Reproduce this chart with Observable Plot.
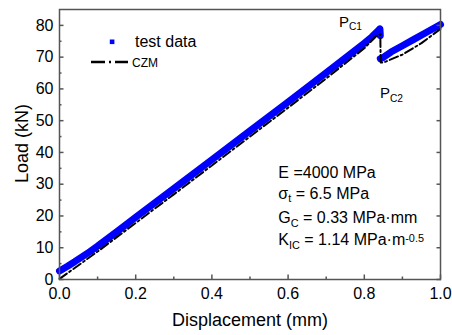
<!DOCTYPE html>
<html><head><meta charset="utf-8">
<script src="https://cdn.jsdelivr.net/npm/d3@7"></script>
<script src="https://cdn.jsdelivr.net/npm/@observablehq/plot@0.6"></script>
<style>body{margin:0;background:#fff} #chart{position:relative;width:452px;height:335px}</style>
</head><body><div id="chart"></div>
<script>
// test data (before and after the load drop)
const testX1 = [0, 0.02, 0.04, 0.06, 0.08, 0.10, 0.15, 0.20, 0.30, 0.40, 0.50, 0.60, 0.70, 0.80, 0.82, 0.835, 0.841, 0.842];
const testY1 = [2.7, 4.1, 5.6, 7.2, 8.8, 10.5, 15.0, 19.6, 28.6, 37.7, 46.8, 55.9, 65.1, 74.4, 76.4, 78.2, 78.9, 76.8];
const testX2 = [0.842, 0.848, 0.87, 0.90, 0.93, 0.96, 1.0];
const testY2 = [69.5, 69.8, 71.6, 73.6, 75.6, 77.6, 80.3];
// CZM simulation
const czmX = [0, 0.05, 0.10, 0.20, 0.30, 0.40, 0.50, 0.60, 0.70, 0.80, 0.83, 0.842, 0.843, 0.85, 0.90, 0.95, 1.0];
const czmY = [0.2, 4.5, 8.8, 17.8, 26.8, 35.9, 45.0, 54.1, 63.3, 72.8, 76.5, 77.3, 68.3, 68.3, 70.8, 74.4, 78.9];
// ticks
const xTicks = [0, 0.2, 0.4, 0.6, 0.8, 1.0];
const xMinor = [0.1, 0.3, 0.5, 0.7, 0.9];
const yTicks = [0, 10, 20, 30, 40, 50, 60, 70, 80];
const yMinor = [5, 15, 25, 35, 45, 55, 65, 75];

const test1 = testX1.map((x, i) => ({x, y: testY1[i]}));
const test2 = testX2.map((x, i) => ({x, y: testY2[i]}));
const czm = czmX.map((x, i) => ({x, y: czmY[i]}));

const FONT = "'Liberation Sans', Arial, sans-serif";
const AX = "#555";
const blank = () => "";

const plot = Plot.plot({
  width: 452, height: 335,
  marginLeft: 59, marginRight: 12, marginTop: 9, marginBottom: 56,
  x: {domain: [0, 1]},
  y: {domain: [0, 85]},
  style: {fontFamily: FONT, background: "white", color: "black"},
  marks: [
    Plot.line(test1, {x: "x", y: "y", stroke: "#0000ff", strokeWidth: 7}),
    Plot.line(test2, {x: "x", y: "y", stroke: "#0000ff", strokeWidth: 7}),
    Plot.line(czm, {x: "x", y: "y", stroke: "black", strokeWidth: 2, strokeDasharray: "9,3,2,3"}),
    Plot.frame({stroke: AX, strokeWidth: 1.5}),
    Plot.axisX({ticks: xTicks, tickSize: 0, tickPadding: 8, tickFormat: d3.format(".1f"), fontSize: 16, label: null}),
    Plot.axisX({ticks: xTicks, tickSize: -4.5, tickFormat: blank, stroke: AX, strokeWidth: 1.5, label: null}),
    Plot.axisX({ticks: xMinor, tickSize: -2.5, tickFormat: blank, stroke: AX, strokeWidth: 1.5, label: null}),
    Plot.axisY({ticks: yTicks, tickSize: 0, tickPadding: 6, fontSize: 16, label: null}),
    Plot.axisY({ticks: yTicks, tickSize: -4.5, tickFormat: blank, stroke: AX, strokeWidth: 1.5, label: null}),
    Plot.axisY({ticks: yMinor, tickSize: -2.5, tickFormat: blank, stroke: AX, strokeWidth: 1.5, label: null}),
    Plot.axisY({anchor: "right", ticks: yTicks, tickSize: -4.5, tickFormat: blank, stroke: AX, strokeWidth: 1.5, label: null})
  ]
});
document.getElementById("chart").appendChild(plot);

const svg = d3.select(plot);
const g = svg.append("g").attr("font-family", FONT).attr("fill", "black").attr("text-anchor", "start");

// axis titles
g.append("text").attr("x", 250).attr("y", 326).attr("text-anchor", "middle").attr("font-size", 18).text("Displacement (mm)");
g.append("text").attr("transform", "translate(28,143.5) rotate(-90)").attr("text-anchor", "middle").attr("font-size", 18).text("Load (kN)");

// legend
g.append("rect").attr("x", 109.8).attr("y", 39.5).attr("width", 4.6).attr("height", 4.6).attr("fill", "#0000ff");
g.append("text").attr("x", 135).attr("y", 47).attr("font-size", 16).text("test data");
g.append("line").attr("x1", 91).attr("x2", 128).attr("y1", 62).attr("y2", 62)
  .attr("stroke", "black").attr("stroke-width", 2.5).attr("stroke-dasharray", "14,4,2,4");
g.append("text").attr("x", 132).attr("y", 67).attr("font-size", 12).text("CZM");

// helper for text with sub/superscripts
function rich(x, y, size, parts) {
  const t = g.append("text").attr("x", x).attr("y", y).attr("font-size", size);
  let shift = 0;
  for (const [s, kind] of parts) {
    const target = kind === "sub" ? 3.6 : kind === "sup" ? -3 : 0;
    const sp = t.append("tspan").attr("dy", target - shift).text(s);
    if (kind) sp.attr("font-size", size * 0.68);
    shift = target;
  }
  return t;
}
rich(339, 26.7, 15, [["P"], ["C1", "sub"]]);
rich(380, 98.3, 15, [["P"], ["C2", "sub"]]);
rich(278.3, 178.3, 16, [["E =4000 MPa"]]);
rich(278.3, 198.5, 16, [["σ"], ["t", "sub"], [" = 6.5 MPa"]]);
rich(278.3, 223.3, 16, [["G"], ["C", "sub"], [" = 0.33 MPa·mm"]]);
rich(278.3, 245, 16, [["K"], ["IC", "sub"], [" = 1.14 MPa·m"], ["-0.5", "sup"]]);
</script>
</body></html>
